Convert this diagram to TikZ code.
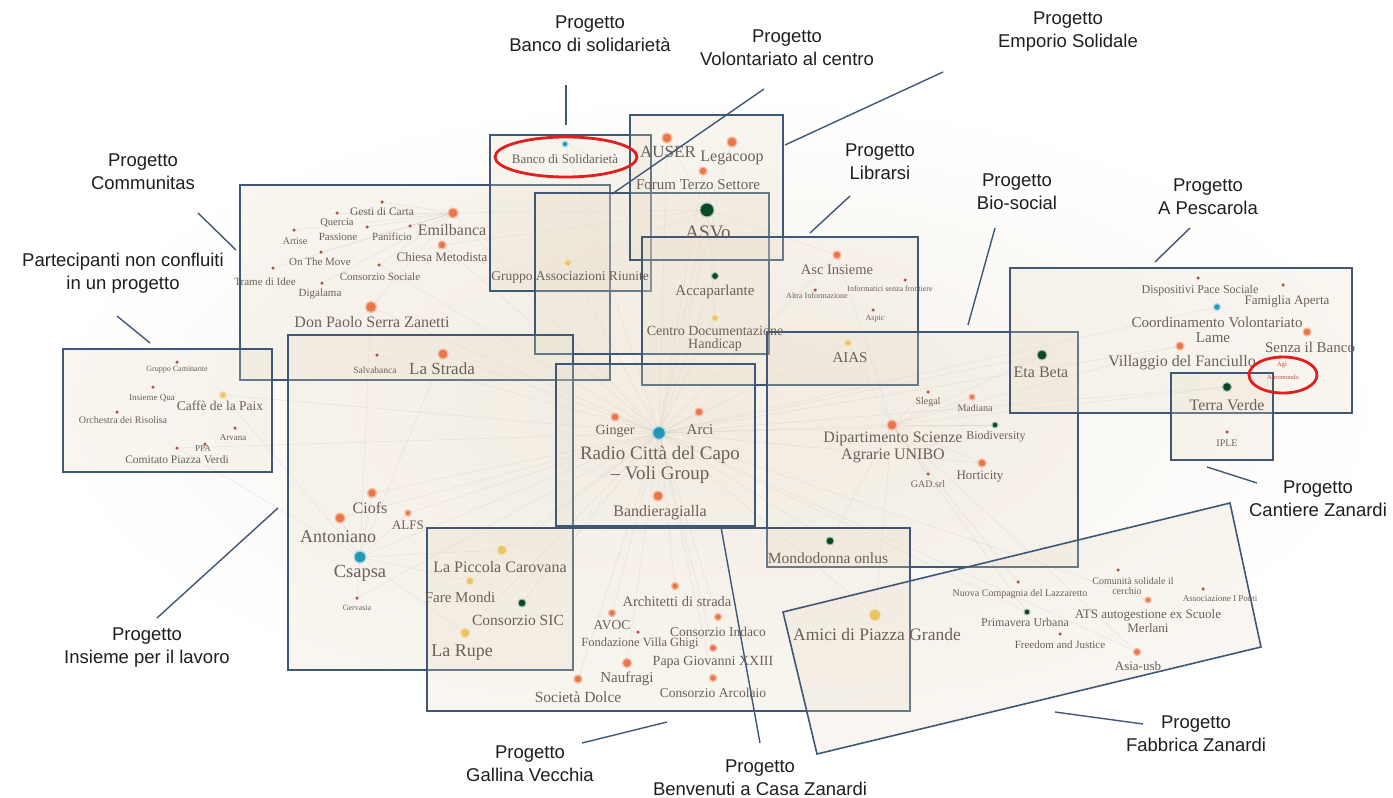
\documentclass[tikz,border=0pt]{standalone}
\usepackage{fontspec}
\setmainfont{Liberation Serif}
\newfontfamily\labfont{Liberation Sans}
\definecolor{boxc}{RGB}{62,88,118}
\definecolor{bgc}{RGB}{246,241,233}
\definecolor{boxfill}{RGB}{232,220,200}
\definecolor{orn}{RGB}{232,118,74}
\definecolor{ornl}{RGB}{246,186,160}
\definecolor{dgr}{RGB}{10,72,40}
\definecolor{tealc}{RGB}{36,150,182}
\definecolor{ylw}{RGB}{236,196,104}
\definecolor{smr}{RGB}{178,84,68}
\definecolor{gtext}{RGB}{108,96,88}
\definecolor{ellc}{RGB}{226,30,30}
\pgfdeclarelayer{back}
\pgfdeclarelayer{edges}
\pgfdeclarelayer{boxes}
\pgfsetlayers{back,edges,boxes,main}
\tikzset{
  prj/.style={draw=boxc, line width=1.6pt, fill=boxfill, fill opacity=0.25},
  lead/.style={draw=boxc, line width=1.4pt},
  lbl/.style={font=\labfont\fontsize{18.5}{23}\selectfont, align=center, text=black!88, inner sep=0pt},
  dO/.style={circle, inner sep=0pt, minimum size=#1, fill=orn, draw=ornl, line width=1.3pt},
  dG/.style={circle, inner sep=0pt, minimum size=#1, fill=dgr, draw=dgr!35, line width=1pt},
  dT/.style={circle, inner sep=0pt, minimum size=#1, fill=tealc, draw=tealc!35, line width=1.3pt},
  dY/.style={circle, inner sep=0pt, minimum size=#1, fill=ylw, draw=ylw!45, line width=1.3pt},
  dS/.style={circle, inner sep=0pt, minimum size=3.5pt, fill=smr},
  gt/.style={text=gtext, inner sep=0pt, font=\fontsize{#1}{#1}\selectfont},
  edge/.style={draw=gray!60, line width=0.5pt, opacity=0.3},
  ell/.style={draw=ellc, line width=2.8pt}
}
\begin{document}
\begin{tikzpicture}[x=1pt,y=-1pt]
\useasboundingbox (0,0) rectangle (1393,798);
\begin{pgfonlayer}{back}
\fill[white] (0,0) rectangle (1393,798);
\shade[inner color=bgc, outer color=white] (40,90) rectangle (1390,725);
\end{pgfonlayer}

% ---------- project boxes ----------
\begin{pgfonlayer}{boxes}
\draw[prj] (240,185) rectangle (610,380);   % Communitas
\draw[prj] (490,135) rectangle (651,291);   % Banco
\draw[prj] (535,193) rectangle (769,354);   % Volontariato
\draw[prj] (630,115) rectangle (783,260);   % Emporio
\draw[prj] (642,237) rectangle (918,385);   % Librarsi
\draw[prj] (767,332) rectangle (1078,567);  % Bio-social
\draw[prj] (63,349) rectangle (272,472);    % Partecipanti
\draw[prj] (288,335) rectangle (573,670);   % Insieme
\draw[prj] (556,364) rectangle (755,526);   % Benvenuti
\draw[prj] (427,528) rectangle (910,711);   % Gallina
\draw[prj] (1010,268) rectangle (1352,413); % Pescarola
\draw[prj] (1171,373) rectangle (1273,460); % Cantiere
\draw[prj] (783,612) -- (1230,503) -- (1261,647) -- (817,754) -- cycle; % Fabbrica
\end{pgfonlayer}

% ---------- graph dots ----------
% Communitas
\node[dS] (gesti) at (382,202) {};
\node[dS] (artise) at (294,230) {};
\node[dS] (quercia) at (337,213) {};
\node[dS] (panif) at (367,227) {};
\node[dO=10pt] (emil) at (453,213) {};
\node[dS] (emils) at (410,226) {};
\node[dO=8pt] (chiesa) at (442,245) {};
\node[dS] (onthe) at (321,252) {};
\node[dS] (cons) at (379,265) {};
\node[dS] (trame) at (273,268) {};
\node[dS] (digal) at (322,283) {};
\node[dO=11pt] (donpaolo) at (371,307) {};
\node[dS] (sabat) at (377,355) {};
\node[dO=10pt] (strada) at (443,354) {};
% Banco / Emporio / Volontariato
\node[dT=6pt] (banco) at (565,144) {};
\node[dY=7pt] (gruppo) at (568,263) {};
\node[dO=10pt] (auser) at (667,138) {};
\node[dO=10pt] (lega) at (732,142) {};
\node[dO=8pt] (forum) at (703,171) {};
\node[dG=14pt] (asvo) at (707,210) {};
\node[dG=7pt] (accap) at (715,276) {};
\node[dY=7pt] (cdh) at (715,318) {};
% Librarsi
\node[dO=8pt] (asc) at (837,255) {};
\node[dS] (altra) at (815,290) {};
\node[dS] (infsf) at (905,280) {};
\node[dS] (aspic) at (873,310) {};
\node[dY=7pt] (aias) at (848,343) {};
% Pescarola / Cantiere
\node[dS] (disp) at (1198,278) {};
\node[dS] (famiglia) at (1283,285) {};
\node[dT=7pt] (coordT) at (1217,307) {};
\node[dO=8pt] (senza) at (1307,332) {};
\node[dO=8pt] (villaggio) at (1180,346) {};
\node[dS] (agi) at (1280,357) {};
\node[dG=10pt] (etabeta) at (1042,355) {};
\node[dG=9pt] (terra) at (1227,387) {};
\node[dS] (iple) at (1227,432) {};
% Bio-social
\node[dS] (slegal) at (928,392) {};
\node[dO=6pt] (madasca) at (972,397) {};
\node[dO=10pt] (dip) at (892,425) {};
\node[dG=6pt] (biod) at (995,425) {};
\node[dO=8pt] (horti) at (982,463) {};
\node[dS] (gad) at (928,474) {};
\node[dG=8pt] (mondo) at (830,541) {};
% Benvenuti
\node[dO=8pt] (ginger) at (615,417) {};
\node[dT=13pt] (radio) at (659,433) {};
\node[dO=8pt] (arci) at (699,412) {};
\node[dO=10pt] (bandiera) at (658,496) {};
% Insieme
\node[dO=9pt] (ciofs) at (372,493) {};
\node[dO=6pt] (alfs) at (408,513) {};
\node[dO=10pt] (anton) at (340,518) {};
\node[dT=12pt] (csapsa) at (360,557) {};
\node[dS] (gorr) at (357,598) {};
% Gallina
\node[dY=10pt] (piccola) at (502,550) {};
\node[dY=8pt] (fare) at (470,581) {};
\node[dG=8pt] (sic) at (522,603) {};
\node[dY=10pt] (rupe) at (465,633) {};
\node[dO=7pt] (archi) at (675,586) {};
\node[dO=7pt] (avoc) at (612,613) {};
\node[dS] (villag) at (638,632) {};
\node[dO=7pt] (indaco) at (718,617) {};
\node[dO=7pt] (papa) at (713,648) {};
\node[dO=9pt] (naufragi) at (627,663) {};
\node[dO=8pt] (dolce) at (578,679) {};
\node[dO=7pt] (arcolaio) at (713,678) {};
% Fabbrica
\node[dY=12pt] (amici) at (875,615) {};
\node[dS] (lazz) at (1018,582) {};
\node[dS] (cerchio) at (1118,570) {};
\node[dS] (ponti) at (1203,589) {};
\node[dO=6pt] (ats) at (1148,600) {};
\node[dG=6pt] (primav) at (1027,612) {};
\node[dS] (freedom) at (1060,634) {};
\node[dO=7pt] (asia) at (1137,652) {};
% Partecipanti
\node[dS] (camin) at (177,362) {};
\node[dS] (inna) at (153,387) {};
\node[dY=7pt] (caffe) at (223,395) {};
\node[dS] (orchis) at (117,412) {};
\node[dS] (arvana) at (235,428) {};
\node[dS] (ppa) at (205,444) {};
\node[dS] (comitato) at (177,448) {};

% ---------- faint network edges ----------
\begin{pgfonlayer}{edges}
\foreach \b in {ginger,arci,bandiera,csapsa,anton,ciofs,alfs,piccola,fare,sic,rupe,archi,avoc,indaco,papa,naufragi,dolce,arcolaio,amici,mondo,dip,asvo,accap,cdh,aias,asc,strada,donpaolo,emil,chiesa,etabeta,terra,villaggio,coordT,caffe,gruppo,banco,auser,lega,forum,horti,biod,primav,ats,asia,sabat,cons,gorr,comitato}
  \draw[edge] (radio) -- (\b);
\foreach \b in {slegal,madasca,biod,horti,gad,etabeta,terra,villaggio,mondo,amici,primav,asia,lazz,aias,asc}
  \draw[edge] (dip) -- (\b);
\foreach \b in {banco,gruppo,auser,lega,forum,accap,cdh,emil,chiesa,asc}
  \draw[edge] (asvo) -- (\b);
\foreach \b in {anton,ciofs,alfs,gorr,piccola,fare,rupe,donpaolo,strada,caffe,comitato}
  \draw[edge] (csapsa) -- (\b);
\foreach \b in {gesti,artise,quercia,panif,emils,onthe,cons,trame,digal,donpaolo}
  \draw[edge] (emil) -- (\b);
\end{pgfonlayer}

% ---------- graph labels ----------
% Communitas
\node[gt=11.5] (tgesti) at (382,212) {Gesti di Carta};
\node[gt=10] (tartise) at (295,241) {Artise};
\node[gt=10.5] (tquercia) at (337,223) {Quercia};
\node[gt=11] (tpass) at (338,237) {Passione};
\node[gt=11] (tpanif) at (392,237) {Panificio};
\node[gt=16] (temil) at (452,230) {Emilbanca};
\node[gt=13] (tchiesa) at (442,257) {Chiesa Metodista};
\node[gt=11] (tonthe) at (320,262) {On The Move};
\node[gt=11] (tcons) at (380,277) {Consorzio Sociale};
\node[gt=11] (ttrame) at (265,282) {Trame di Idee};
\node[gt=11] (tdigal) at (320,294) {Digalama};
\node[gt=16] (tdonpaolo) at (372,322) {Don Paolo Serra Zanetti};
\node[gt=9.5] (tsabat) at (375,370) {Salvabanca};
\node[gt=17] (tstrada) at (442,369) {La Strada};
% Banco / Emporio / Volontariato
\node[gt=13] (tbanco) at (565,159) {Banco di Solidarietà};
\node[gt=13.5] (tgruppo) at (570,277) {Gruppo Associazioni Riunite};
\node[gt=17] (tauser) at (668,152) {AUSER};
\node[gt=16] (tlega) at (732,158) {Legacoop};
\node[gt=15] (tforum) at (698,185) {Forum Terzo Settore};
\node[gt=19] (tasvo) at (708,232) {ASVo};
\node[gt=15] (taccap) at (715,292) {Accaparlante};
\node[gt=14] (tcdh1) at (715,331) {Centro Documentazione};
\node[gt=14] (tcdh2) at (715,345) {Handicap};
% Librarsi
\node[gt=14.5] (tasc) at (837,270) {Asc Insieme};
\node[gt=8] (taltra) at (817,296) {Altra Informazione};
\node[gt=8] (tinfsf) at (890,289) {Informatici senza frontiere};
\node[gt=8] (taspic) at (875,319) {Aspic};
\node[gt=15] (taias) at (850,358) {AIAS};
% Pescarola / Cantiere
\node[gt=12] (tdisp) at (1200,291) {Dispositivi Pace Sociale};
\node[gt=13] (tfamiglia) at (1287,301) {Famiglia Aperta};
\node[gt=15] (tcoord1) at (1217,322) {Coordinamento Volontariato};
\node[gt=15] (tcoord2) at (1213,338) {Lame};
\node[gt=15] (tsenza) at (1310,347) {Senza il Banco};
\node[gt=16] (tvillaggio) at (1182,363) {Villaggio del Fanciullo};
\node[gt=6.5, text=smr] (tagi1) at (1282,365) {Agì};
\node[gt=6.5, text=smr] (tagi2) at (1283,377) {Altromondo};
\node[gt=16] (tetabeta) at (1041,372) {Eta Beta};
\node[gt=16] (tterra) at (1227,405) {Terra Verde};
\node[gt=10] (tiple) at (1227,443) {IPLE};
% Bio-social
\node[gt=10] (tslegal) at (928,402) {Slegal};
\node[gt=10] (tmadasca) at (975,408) {Madiana};
\node[gt=16] (tdip1) at (893,439) {Dipartimento Scienze};
\node[gt=16] (tdip2) at (893,456) {Agrarie UNIBO};
\node[gt=12] (tbiod) at (996,437) {Biodiversity};
\node[gt=13] (thorti) at (980,477) {Horticity};
\node[gt=10] (tgad) at (928,484) {GAD.srl};
\node[gt=15.5] (tmondo) at (828,558) {Mondodonna onlus};
% Benvenuti
\node[gt=14] (tginger) at (615,431) {Ginger};
\node[gt=15] (tarci) at (700,430) {Arci};
\node[gt=19] (tradio1) at (660,455) {Radio Città del Capo};
\node[gt=19] (tradio2) at (660,475) {– Voli Group};
\node[gt=16] (tbandiera) at (660,513) {Bandieragialla};
% Insieme
\node[gt=16] (tciofs) at (370,508) {Ciofs};
\node[gt=13] (talfs) at (408,525) {ALFS};
\node[gt=18] (tanton) at (338,537) {Antoniano};
\node[gt=18.5] (tcsapsa) at (360,573) {Csapsa};
\node[gt=8] (tgorr) at (357,608) {Gervasia};
% Gallina
\node[gt=16] (tpiccola) at (500,567) {La Piccola Carovana};
\node[gt=15] (tfare) at (460,597) {Fare Mondi};
\node[gt=15.5] (tsic) at (518,620) {Consorzio SIC};
\node[gt=18] (trupe) at (462,653) {La Rupe};
\node[gt=14.5] (tarchi) at (677,602) {Architetti di strada};
\node[gt=13.5] (tavoc) at (612,625) {AVOC};
\node[gt=13.5] (tindaco) at (718,632) {Consorzio Indaco};
\node[gt=12.5] (tvillag) at (640,644) {Fondazione Villa Ghigi};
\node[gt=14] (tpapa) at (713,662) {Papa Giovanni XXIII};
\node[gt=15] (tnaufragi) at (627,679) {Naufragi};
\node[gt=15.5] (tdolce) at (578,697) {Società Dolce};
\node[gt=13.5] (tarcolaio) at (713,693) {Consorzio Arcolaio};
% Fabbrica
\node[gt=17.5] (tamici) at (877,635) {Amici di Piazza Grande};
\node[gt=10] (tlazz) at (1020,594) {Nuova Compagnia del Lazzaretto};
\node[gt=10] (tcerchio1) at (1133,581) {Comunità solidale il};
\node[gt=10] (tcerchio2) at (1127,591) {cerchio};
\node[gt=9] (tponti) at (1220,599) {Associazione I Ponti};
\node[gt=13] (tats1) at (1148,615) {ATS autogestione ex Scuole};
\node[gt=13] (tats2) at (1148,628) {Merlani};
\node[gt=12] (tprimav) at (1025,622) {Primavera Urbana};
\node[gt=11] (tfreedom) at (1060,645) {Freedom and Justice};
\node[gt=13] (tasia) at (1138,666) {Asia-usb};
% Partecipanti
\node[gt=8] (tcamin) at (177,370) {Gruppo Caminante};
\node[gt=9] (tinna) at (152,398) {Insieme Qua};
\node[gt=13.5] (tcaffe) at (220,406) {Caffè de la Paix};
\node[gt=10] (torchis) at (123,420) {Orchestra dei Risolisa};
\node[gt=9] (tarvana) at (233,438) {Arvana};
\node[gt=9] (tppa) at (203,449) {PPA};
\node[gt=11.5] (tcomitato) at (177,460) {Comitato Piazza Verdi};

% ---------- red highlights ----------
\draw[ell] (566,157) ellipse [x radius=71pt, y radius=20pt];
\draw[ell] (1283,375) ellipse [x radius=34pt, y radius=18pt];

% ---------- project labels ----------
\node[lbl] (lBanco) at (590,34) {Progetto\\Banco di solidarietà};
\node[lbl] (lVol) at (787,48) {Progetto\\Volontariato al centro};
\node[lbl] (lEmp) at (1068,32) {Progetto\\Emporio Solidale};
\node[lbl] (lLib) at (880,162) {Progetto\\Librarsi};
\node[lbl] (lBio) at (1017,192) {Progetto\\Bio-social};
\node[lbl] (lPes) at (1208,197) {Progetto\\A Pescarola};
\node[lbl] (lCom) at (143,172) {Progetto\\Communitas};
\node[lbl] (lPar) at (123,273) {Partecipanti non confluiti\\in un progetto};
\node[lbl] (lCan) at (1318,499) {Progetto\\Cantiere Zanardi};
\node[lbl] (lIns) at (147,648) {Progetto\\Insieme per il lavoro};
\node[lbl] (lGal) at (530,764) {Progetto\\Gallina Vecchia};
\node[lbl] (lBen) at (760,778) {Progetto\\Benvenuti a Casa Zanardi};
\node[lbl] (lFab) at (1196,734) {Progetto\\Fabbrica Zanardi};

% ---------- leader lines ----------
\coordinate (aBanco) at (566,125);   \coordinate (sBanco) at (566,85);
\coordinate (aVol) at (612,194);     \coordinate (sVol) at (764,89);
\coordinate (aEmp) at (785,145);     \coordinate (sEmp) at (943,72);
\coordinate (aLib) at (810,233);     \coordinate (sLib) at (850,196);
\coordinate (aBio) at (968,325);     \coordinate (sBio) at (995,228);
\coordinate (aPes) at (1155,262);    \coordinate (sPes) at (1190,228);
\coordinate (aCom) at (236,250);     \coordinate (sCom) at (198,213);
\coordinate (aPar) at (150,343);     \coordinate (sPar) at (117,316);
\coordinate (aCan) at (1207,467);    \coordinate (sCan) at (1257,483);
\coordinate (aIns) at (278,508);     \coordinate (sIns) at (157,618);
\coordinate (aGal) at (667,722);     \coordinate (sGal) at (582,743);
\coordinate (aBen) at (721,527);     \coordinate (sBen) at (760,743);
\coordinate (aFab) at (1055,712);    \coordinate (sFab) at (1143,724);
\foreach \p in {Banco,Vol,Emp,Lib,Bio,Pes,Com,Par,Can,Ins,Gal,Ben,Fab}
  \draw[lead] (s\p) -- (a\p);
\end{tikzpicture}
\end{document}
